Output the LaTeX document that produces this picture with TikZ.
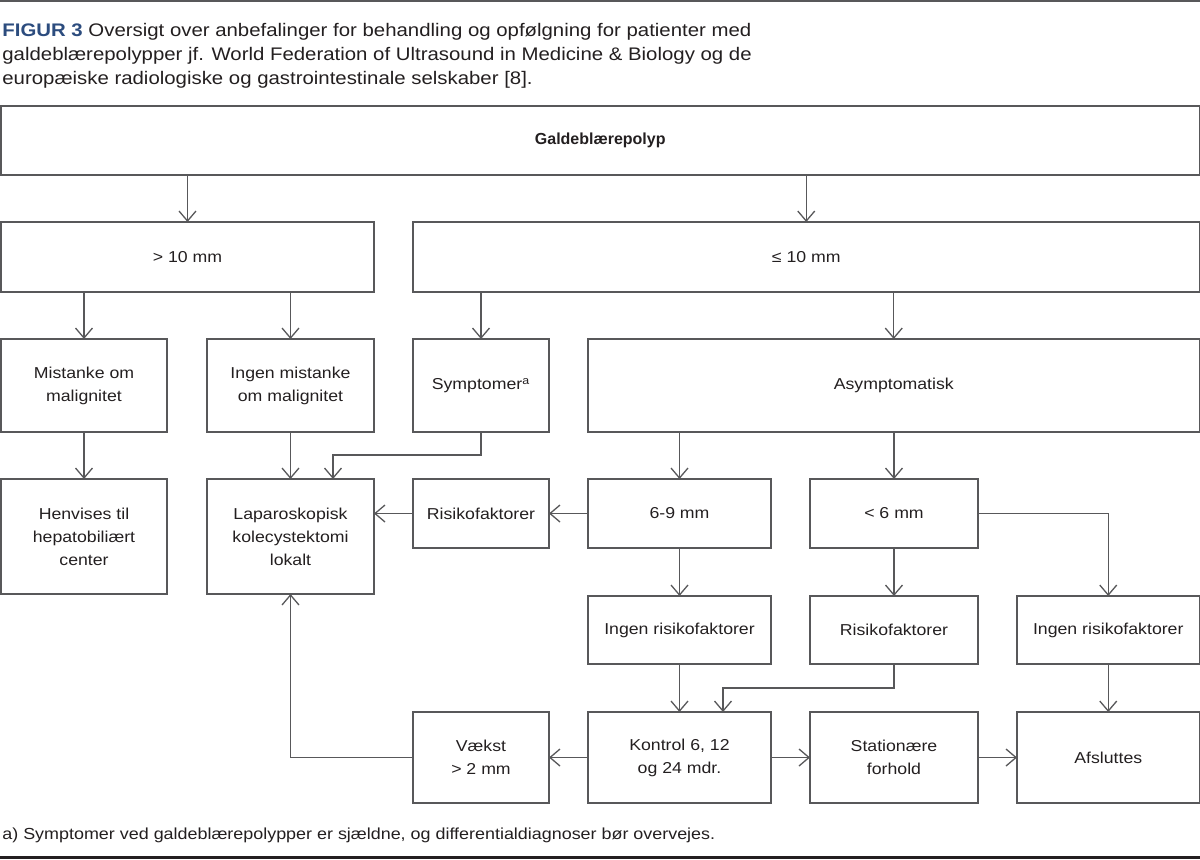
\documentclass[tikz,border=0pt]{standalone}
\usepackage{fontspec}
\setmainfont{Liberation Sans}[FakeStretch=1.12]
\newfontfamily\plainsans{Liberation Sans}
\usetikzlibrary{arrows.meta}
\definecolor{lc}{RGB}{88,88,90}
\definecolor{tc}{RGB}{35,31,32}
\definecolor{figblue}{RGB}{44,76,126}
\newcommand{\boxfont}{\fontsize{7.9pt}{11.5pt}\selectfont}
\newcommand{\titlefont}{\fontsize{9.1pt}{12pt}\selectfont}
\newcommand{\notefont}{\fontsize{8pt}{10pt}\selectfont}
\newcommand{\bx}[6]{\node[box, minimum width={(#4-#2)*0.5pt}, minimum height={(#5-#3)*0.5pt}] (#1) at ({(#2+#4)/2},{(#3+#5)/2}) {#6};}
\begin{document}
\begin{tikzpicture}[x=0.5pt,y=-0.5pt,
  box/.style={draw=lc, line width=0.65pt, inner sep=0pt, outer sep=0pt, align=center, font=\boxfont, text=tc},
  arr/.style={draw=lc, line width=0.65pt, -{Straight Barb[length=5pt,width=8.5pt,line width=0.65pt]}},
  titletext/.style={anchor=base west, inner sep=0pt, font=\titlefont, text=tc},
]
\useasboundingbox (0,0) rectangle (1200,859);
% rules
\draw[line width=1pt, color=lc] (0,1) -- (1200,1);
\draw[line width=1.75pt, color=tc] (0,857.5) -- (1200,857.5);
% title
\node[titletext] (t1) at (2,36) {\textcolor{figblue}{\textbf{FIGUR 3}} Oversigt over anbefalinger for behandling og opfølgning for patienter med};
\node[titletext] (t2) at (2,60) {galdeblærepolypper jf. World Federation of Ultrasound in Medicine \& Biology og de};
\node[titletext] (t3) at (2,84) {europæiske radiologiske og gastrointestinale selskaber [8].};
% boxes
\bx{galde}{1}{106}{1199.5}{175}{\plainsans\fontsize{8pt}{11.5pt}\selectfont\textbf{Galdeblærepolyp}}
\bx{gt10}{1}{222}{374}{292}{> 10 mm}
\bx{le10}{413}{222}{1199.5}{292}{≤ 10 mm}
\bx{mist}{1}{339}{167}{432}{Mistanke om\\malignitet}
\bx{ingen}{207}{339}{374}{432}{Ingen mistanke\\om malignitet}
\bx{sym}{413}{339}{549}{432}{Symptomer\textsuperscript{a}}
\bx{asym}{588}{339}{1199.5}{432}{Asymptomatisk}
\bx{henv}{1}{479}{167}{594}{Henvises til\\hepatobiliært\\center}
\bx{lap}{207}{479}{374}{594}{Laparoskopisk\\kolecystektomi\\lokalt}
\bx{risk1}{413}{479}{549}{548}{Risikofaktorer}
\bx{s69}{588}{479}{771}{548}{6-9 mm}
\bx{lt6}{810}{479}{978}{548}{< 6 mm}
\bx{ingenr1}{588}{596}{771}{664}{Ingen risikofaktorer}
\bx{risk2}{810}{596}{978}{664}{Risikofaktorer}
\bx{ingenr2}{1017}{596}{1199.5}{664}{Ingen risikofaktorer}
\bx{vaekst}{413}{712}{549}{803}{Vækst\\> 2 mm}
\bx{kontrol}{588}{712}{771}{803}{Kontrol 6, 12\\og 24 mdr.}
\bx{stat}{810}{712}{978}{803}{Stationære\\forhold}
\bx{afsl}{1017}{712}{1199.5}{803}{Afsluttes}
% connectors
\draw[arr] (galde.south -| gt10.north) -- (gt10.north);
\draw[arr] (galde.south -| le10.north) -- (le10.north);
\draw[arr] (gt10.south -| mist.north) -- (mist.north);
\draw[arr] (gt10.south -| ingen.north) -- (ingen.north);
\draw[arr] (le10.south -| sym.north) -- (sym.north);
\draw[arr] (le10.south -| asym.north) -- (asym.north);
\draw[arr] (mist.south) -- (henv.north);
\draw[arr] (ingen.south) -- (lap.north);
\coordinate (k1) at (333,455);
\draw[arr] (sym.south) |- (k1) -- (k1 |- lap.north);
\draw[arr] (asym.south -| s69.north) -- (s69.north);
\draw[arr] (asym.south -| lt6.north) -- (lt6.north);
\draw[arr] (s69.west) -- (risk1.east);
\draw[arr] (risk1.west) -- (lap.east |- risk1.west);
\draw[arr] (s69.south) -- (ingenr1.north);
\draw[arr] (lt6.south) -- (risk2.north);
\draw[arr] (lt6.east) -| (ingenr2.north);
\draw[arr] (ingenr1.south) -- (kontrol.north);
\coordinate (k2) at (723,688);
\draw[arr] (risk2.south) |- (k2) -- (k2 |- kontrol.north);
\draw[arr] (kontrol.west) -- (vaekst.east);
\draw[arr] (kontrol.east) -- (stat.west);
\draw[arr] (stat.east) -- (afsl.west);
\draw[arr] (ingenr2.south) -- (afsl.north);
\draw[arr] (vaekst.west) -| (lap.south);
% footnote
\node[anchor=base west, inner sep=0pt, font=\notefont, text=tc] (note) at (2,839) {a) Symptomer ved galdeblærepolypper er sjældne, og differentialdiagnoser bør overvejes.};
\end{tikzpicture}
\end{document}
